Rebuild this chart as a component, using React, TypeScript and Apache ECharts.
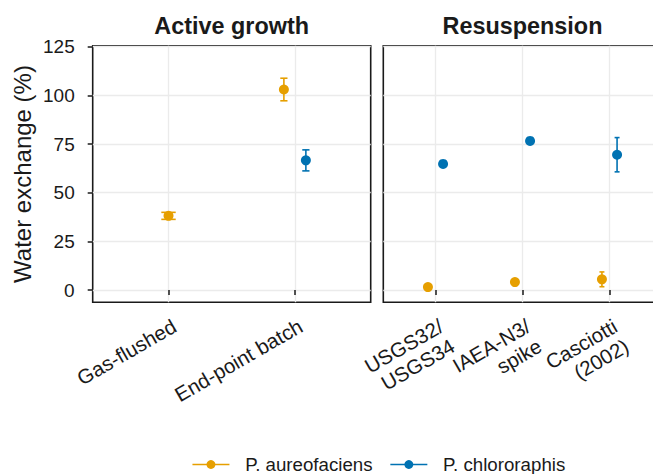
import React, { useEffect, useRef } from 'react';
import * as echarts from 'echarts';

const panelTitles = ['Active growth', 'Resuspension'];
const activeCategories = ['Gas-flushed', 'End-point batch'];
const resuspensionCategories = ['USGS32/\nUSGS34', 'IAEA-N3/\nspike', 'Casciotti\n(2002)'];
const speciesNames = ['P. aureofaciens', 'P. chlororaphis'];
const speciesColors = ['#E69F00', '#0072B2'];

// mean values (%) and error (±)
const aureoActive = [38.1, 103.0];
const aureoActiveErr = [1.8, 5.8];
const chloroActive: (number | null)[] = [null, 66.6];
const chloroActiveErr: (number | null)[] = [null, 5.4];
const aureoResusp = [1.5, 4.1, 5.5];
const aureoResuspErr = [0.6, 0.6, 3.8];
const chloroResusp = [64.8, 76.6, 69.5];
const chloroResuspErr = [0.6, 0.6, 8.8];

const yTicks = [0, 25, 50, 75, 100, 125];
const yMin = -6.3;
const yMax = 125.5;

const FONT = '"Liberation Sans", Arial, Helvetica, sans-serif';
const TEXT = '#1a1a1a';
const DODGE = 0.087;
const CAP_HALF = 0.057;

type Row = [number, number, number, number];

function buildRows(
  values: (number | null)[][],
  errs: (number | null)[][],
  s: number
): Row[] {
  const rows: Row[] = [];
  values[s].forEach((v, i) => {
    if (v == null) return;
    const present = values.filter((arr) => arr[i] != null).length;
    const offset = present > 1 ? (s === 0 ? -DODGE : DODGE) : 0;
    const cap = CAP_HALF / present;
    rows.push([i + 1 + offset, v, (errs[s][i] as number) || 0, cap]);
  });
  return rows;
}

export default function App() {
  const ref = useRef<HTMLDivElement>(null);

  useEffect(() => {
    if (!ref.current) return;
    const chart = echarts.init(ref.current, undefined, { renderer: 'svg' });

    const panels = [
      {
        cats: activeCategories,
        values: [aureoActive, chloroActive],
        errs: [aureoActiveErr, chloroActiveErr],
      },
      {
        cats: resuspensionCategories,
        values: [aureoResusp, chloroResusp],
        errs: [aureoResuspErr, chloroResuspErr],
      },
    ];

    const gridTop = 45.7;
    const gridHeight = 256.6;
    const grids = [
      { left: 92.7, top: gridTop, width: 278, height: gridHeight },
      { left: 383.3, top: gridTop, width: 278.4, height: gridHeight },
    ].map((g) => ({
      ...g,
      show: true,
      borderColor: TEXT,
      borderWidth: 1.6,
      backgroundColor: 'transparent',
      containLabel: false,
      outerBoundsMode: 'none',
    }));

    const labelBase = {
      rotate: 30,
      align: 'right',
      verticalAlign: 'top',
      showMinLabel: true,
      showMaxLabel: true,
      hideOverlap: false,
      fontSize: 20.5,
      fontFamily: FONT,
      color: TEXT,
      margin: 12,
      lineHeight: 23,
    };

    const xAxis: any[] = panels.map((p, pi) => {
      const ticks = p.cats.map((_, i) => i + 1);
      // odd positions labelled here; even positions on a companion axis so labels never get auto-hidden
      const labelled = pi === 0 ? ticks : ticks.filter((t) => t % 2 === 1);
      return {
        type: 'value',
        gridIndex: pi,
        min: 0.4,
        max: p.cats.length + 0.6,
        axisLine: { show: false },
        axisTick: {
          show: true,
          customValues: ticks,
          length: 5,
          lineStyle: { color: TEXT, width: 1.5 },
        },
        axisLabel: {
          ...labelBase,
          customValues: labelled,
          formatter: (v: number) => p.cats[Math.round(v) - 1] ?? '',
        },
        splitLine: { show: true, lineStyle: { color: '#EBEBEB', width: 1.3 } },
      };
    });
    // companion label axis for the resuspension panel
    const rTicks = resuspensionCategories.map((_, i) => i + 1).filter((t) => t % 2 === 0);
    xAxis.push({
      type: 'value',
      gridIndex: 1,
      position: 'bottom',
      offset: 0,
      min: 0.4,
      max: resuspensionCategories.length + 0.6,
      axisLine: { show: false },
      axisTick: { show: false, customValues: rTicks },
      splitLine: { show: false },
      axisLabel: {
        ...labelBase,
        customValues: rTicks,
        formatter: (v: number) => resuspensionCategories[Math.round(v) - 1] ?? '',
      },
    });

    const yAxis = panels.map((_, pi) => ({
      type: 'value',
      gridIndex: pi,
      min: yMin,
      max: yMax,
      axisLine: { show: false },
      axisTick: {
        show: pi === 0,
        customValues: yTicks,
        length: 5,
        lineStyle: { color: TEXT, width: 1.5 },
      },
      axisLabel: {
        show: pi === 0,
        customValues: yTicks,
        showMinLabel: true,
        showMaxLabel: true,
        fontSize: 19,
        fontFamily: FONT,
        color: TEXT,
        margin: 18,
      },
      splitLine: { show: true, lineStyle: { color: '#EBEBEB', width: 1.3 } },
      name: pi === 0 ? 'Water exchange (%)' : '',
      nameLocation: 'middle',
      nameGap: 58,
      nameTextStyle: { fontSize: 24, fontFamily: FONT, color: TEXT },
    }));

    const pointSeries: any[] = [];
    const errSeries: any[] = [];
    panels.forEach((p, pi) => {
      [0, 1].forEach((s) => {
        const rows = buildRows(p.values, p.errs, s);
        pointSeries.push({
          type: 'line',
          name: speciesNames[s],
          xAxisIndex: pi,
          yAxisIndex: pi,
          data: rows.map((r) => [r[0], r[1]]),
          symbol: 'circle',
          symbolSize: 10,
          showSymbol: true,
          itemStyle: { color: speciesColors[s] },
          lineStyle: { color: speciesColors[s], width: 1.5, opacity: 0 },
          silent: true,
          z: 4,
        });
        errSeries.push({
          type: 'custom',
          name: speciesNames[s] + ' error',
          xAxisIndex: pi,
          yAxisIndex: pi,
          data: rows,
          encode: { x: 0, y: 1 },
          silent: true,
          z: 3,
          renderItem: (_params: any, api: any) => {
            const x = api.value(0);
            const y = api.value(1);
            const e = api.value(2);
            const h = api.value(3);
            const top = api.coord([x, y + e]);
            const bot = api.coord([x, y - e]);
            const l = api.coord([x - h, y])[0];
            const r = api.coord([x + h, y])[0];
            const style = { stroke: speciesColors[s], lineWidth: 1.6, fill: 'none' };
            return {
              type: 'group',
              children: [
                { type: 'line', shape: { x1: top[0], y1: top[1], x2: bot[0], y2: bot[1] }, style },
                { type: 'line', shape: { x1: l, y1: top[1], x2: r, y2: top[1] }, style },
                { type: 'line', shape: { x1: l, y1: bot[1], x2: r, y2: bot[1] }, style },
              ],
            };
          },
        });
      });
    });

    const titleStyle = {
      textAlign: 'center',
      textVerticalAlign: 'middle',
      fontSize: 23.4,
      fontWeight: 'bold',
      fontFamily: FONT,
      fill: TEXT,
    };

    const option: any = {
      animation: false,
      backgroundColor: '#ffffff',
      textStyle: { fontFamily: FONT },
      grid: grids,
      xAxis,
      yAxis,
      graphic: [
        {
          type: 'text',
          x: 92.7 + 278 / 2,
          y: 25.5,
          style: { ...titleStyle, text: panelTitles[0] },
        },
        {
          type: 'text',
          x: 383.3 + 278.4 / 2,
          y: 25.5,
          style: { ...titleStyle, text: panelTitles[1] },
        },
      ],
      legend: {
        data: speciesNames,
        left: 191.7,
        top: 455,
        padding: 0,
        itemWidth: 37,
        itemHeight: 11,
        itemGap: 17,
        selectedMode: false,
        lineStyle: { width: 1.5, opacity: 1 },
        textStyle: {
          fontSize: 18.7,
          fontFamily: FONT,
          color: TEXT,
          padding: [0, 0, 0, 10.7],
        },
      },
      series: [...pointSeries, ...errSeries],
    };

    chart.setOption(option);
    return () => chart.dispose();
  }, []);

  return (
    <div
      ref={ref}
      style={{ position: 'fixed', left: 0, top: 0, width: 653, height: 474, background: '#fff' }}
    />
  );
}
